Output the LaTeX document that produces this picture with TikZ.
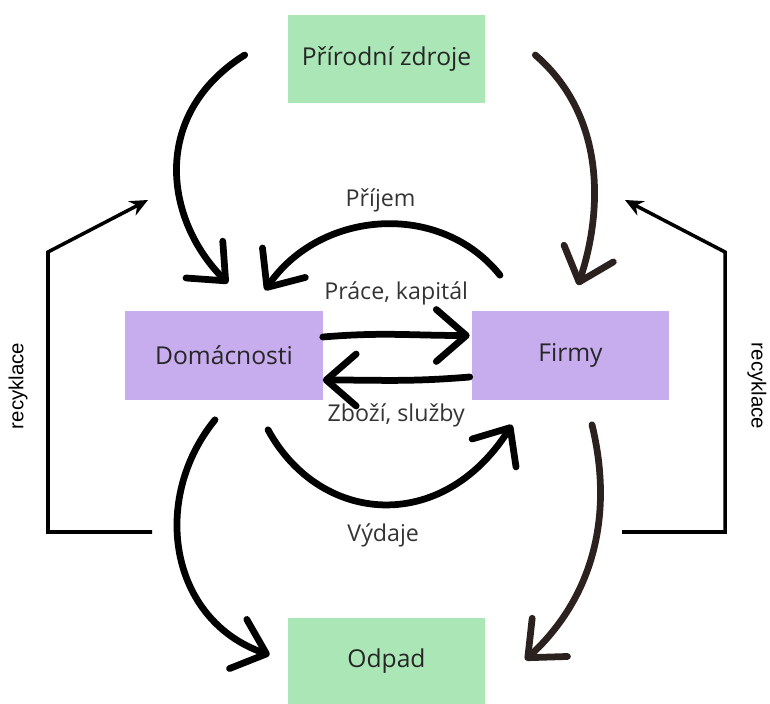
\documentclass[tikz,border=0pt]{standalone}
\usepackage{fontspec}
\setmainfont{Open Sans}
\newfontfamily\recfont{Liberation Sans}
\usetikzlibrary{arrows.meta,calc}

\definecolor{zelena}{RGB}{170,230,182}
\definecolor{fialova}{RGB}{199,172,238}
\definecolor{hneda}{RGB}{43,34,32}
\definecolor{sedy}{RGB}{52,52,52}

\tikzset{
  box/.style={minimum width=4.925cm, minimum height=2.2cm, inner sep=0pt, font=\fontsize{17.5}{20}\selectfont, text=black!85},
  zdroj/.style={box, fill=zelena},
  sektor/.style={box, fill=fialova},
  flow/.style={line width=4.8pt, line cap=round, -{Straight Barb[length=7.5mm,width=13mm,round]}},
  popis/.style={font=\fontsize{16.5}{19}\selectfont, text=sedy},
  recyc/.style={line width=2.5pt, -{Stealth[length=4.5mm,width=4mm]}},
  reclabel/.style={font=\recfont\fontsize{14.5}{17}\selectfont},
}

\begin{document}
\begin{tikzpicture}[x=0.025cm, y=-0.025cm]
			\useasboundingbox (0,0) rectangle (770,704);
			% boxes
			\node[zdroj] (zdroje) at (386.5,59) {Přírodní zdroje};
			\node[sektor] (domac) at (224,355.5) {Domácnosti};
			\node[sektor] (firmy) at (570.5,355.5) {Firmy};
			\node[zdroj, minimum height=2.15cm] (odpad) at (386.5,661) {Odpad};
			% resources
			\draw[flow] ($(zdroje.west)+(-43,-4)$) .. controls +(-95,60) and +(-63,-63) .. ($(domac.north)+(4,-28)$);
			\draw[flow, hneda] ($(zdroje.east)+(50,-4)$) .. controls +(75,65) and +(22,-65) .. ($(firmy.north)+(7.5,-26)$);
			% money and goods
			\draw[flow] ($(firmy.north)+(-70.5,-36)$) .. controls +(-60,-75) and +(55,-80) .. ($(domac.north)+(41,-21)$)
				node[midway, above=3pt, popis] (prijem) {Příjem};
			\draw[flow] ($(domac.east)+(0,-18.5)$) .. controls +(60,-5) and +(-60,0) .. ($(firmy.west)+(-2,-20)$)
				node[midway, above=15pt, popis] (prace) {Práce, kapitál};
			\draw[flow] ($(firmy.west)+(-2,21.5)$) .. controls +(-60,5) and +(60,0) .. ($(domac.east)+(0,24.5)$)
				node[midway, below=11pt, popis] (zbozi) {Zboží, služby};
			\draw[flow] ($(domac.south)+(44,30)$) .. controls +(52,95) and +(-70,110) .. ($(firmy.south)+(-58.5,25)$)
				node[midway, below=8pt, popis] (vydaje) {Výdaje};
			% waste
			\draw[flow] ($(domac.south)+(-9,20)$) .. controls +(-65,80) and +(-100,-35) .. ($(odpad.west)+(-18,-6)$);
			\draw[flow, hneda] ($(firmy.south)+(21.5,25)$) .. controls +(23,95) and +(65,-60) .. ($(odpad.east)+(40,-1)$);
			% recycling
			\coordinate (recL) at (152,532);
			\coordinate (recLtip) at (148,200);
			\coordinate (recR) at (622,532);
			\coordinate (recRtip) at (625,200);
			\draw[recyc] (recL) -| (48,252) -- (recLtip);
			\draw[recyc] (recR) -| (725,252) -- (recRtip);
			\node[rotate=90, reclabel] (recyklL) at (18,386) {recyklace};
			\node[rotate=-90, reclabel] (recyklR) at (757,386) {recyklace};
		\end{tikzpicture}
\end{document}
